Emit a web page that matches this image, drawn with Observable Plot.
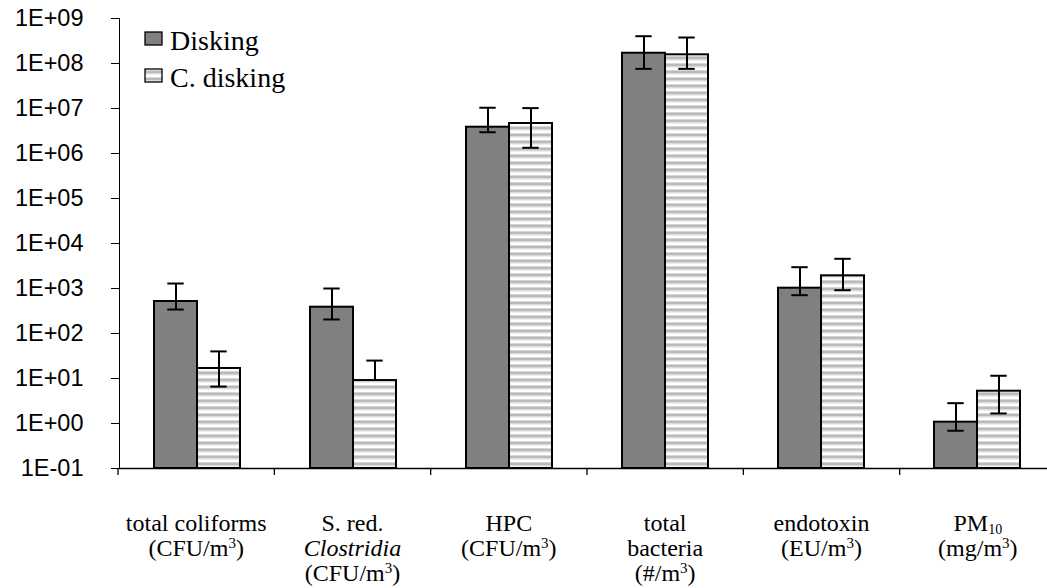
<!DOCTYPE html>
<html>
<head>
<meta charset="utf-8">
<script src="https://cdn.jsdelivr.net/npm/d3@7"></script>
<script src="https://cdn.jsdelivr.net/npm/@observablehq/plot@0.6"></script>
<style>
  html, body { margin: 0; padding: 0; background: white; overflow: hidden; }
  #chart { position: relative; width: 1047px; height: 588px; overflow: hidden; }
  #chart svg { overflow: hidden; }
</style>
</head>
<body>
<svg width="0" height="0" style="position:absolute">
  <defs>
    <pattern id="hstripes" patternUnits="userSpaceOnUse" width="8" height="7">
      <rect x="0" y="0" width="8" height="7" fill="#ffffff"></rect>
      <rect x="0" y="0" width="8" height="1" fill="#d6d6d6"></rect>
      <rect x="0" y="1" width="8" height="2.4" fill="#bababa"></rect>
      <rect x="0" y="3.4" width="8" height="1" fill="#d6d6d6"></rect>
    </pattern>
  </defs>
</svg>
<div id="chart"></div>
<script>
// ---- data ----
const categories = ["total coliforms", "S. red. Clostridia", "HPC", "total bacteria", "endotoxin", "PM10"];
const series = ["Disking", "C. disking"];
const diskingMean = [514, 384, 3.84e6, 1.69e8, 1016, 1.07];
const diskingLow = [341, 205, 2.97e6, 7.6e7, 710, 0.69];
const diskingHigh = [1291, 1000, 1.04e7, 4.04e8, 2974, 2.83];
const cDiskingMean = [16.7, 9.0, 4.64e6, 1.56e8, 1914, 5.22];
const cDiskingLow = [6.6, null, 1.34e6, 7.6e7, 916, 1.67];
const cDiskingHigh = [40, 25, 1.02e7, 3.78e8, 4571, 11.5];
const yTicks = [1e-1, 1e0, 1e1, 1e2, 1e3, 1e4, 1e5, 1e6, 1e7, 1e8, 1e9];
// ^x = superscript, ~x = subscript, _text_ = italic
const tickLabelLines = [
  ["total coliforms", "(CFU/m^3)"],
  ["S. red.", "_Clostridia_", "(CFU/m^3)"],
  ["HPC", "(CFU/m^3)"],
  ["total", "bacteria", "(#/m^3)"],
  ["endotoxin", "(EU/m^3)"],
  ["PM~10", "(mg/m^3)"]
];

const rows = categories.flatMap((c, i) => [
  {category: c, series: series[0], value: diskingMean[i], lo: diskingLow[i], hi: diskingHigh[i]},
  {category: c, series: series[1], value: cDiskingMean[i], lo: cDiskingLow[i], hi: cDiskingHigh[i]}
]);

const fmt = v => {
  const e = Math.round(Math.log10(v));
  return "1E" + (e < 0 ? "-" : "+") + String(Math.abs(e)).padStart(2, "0");
};

const W = 1047, H = 588;
const plot = Plot.plot({
  width: W,
  height: H,
  marginLeft: 118,
  marginRight: 0,
  marginTop: 18,
  marginBottom: 120,
  style: {fontFamily: "'Liberation Sans', Arial, sans-serif", fontSize: "23.5px", color: "black", background: "white"},
  facet: {data: rows, x: "category"},
  fx: {domain: categories, range: [118, 1056], padding: 0, axis: null, label: null},
  x: {domain: series, paddingInner: 0, paddingOuter: 0.78, axis: null, label: null},
  y: {type: "log", domain: [0.1, 1e9], range: [468, 18], ticks: yTicks, tickFormat: fmt,
      tickSize: 8, tickPadding: 28, line: true, label: null},
  marks: [
    Plot.barY(rows, {filter: d => d.series === series[0], x: "series", y1: 0.1, y2: "value", fill: "#808080", stroke: "black", strokeWidth: 2}),
    Plot.barY(rows, {filter: d => d.series === series[1], x: "series", y1: 0.1, y2: "value", fill: "url(#hstripes)", stroke: "black", strokeWidth: 2}),
    Plot.ruleY([0.1], {stroke: "black", strokeWidth: 1.3}),
    Plot.ruleX(rows, {x: "series", y1: d => d.lo ?? d.value, y2: "hi", stroke: "black", strokeWidth: 2}),
    Plot.tickY(rows, {x: "series", y: "hi", insetLeft: 13.3, insetRight: 13.3, stroke: "black", strokeWidth: 2}),
    Plot.tickY(rows, {filter: d => d.lo != null, x: "series", y: "lo", insetLeft: 13.3, insetRight: 13.3, stroke: "black", strokeWidth: 2})
  ]
});

document.getElementById("chart").appendChild(plot);

// ---- category boundary ticks & rich category labels, placed with the plot's fx scale ----
const svgRoot = d3.select(plot.tagName.toLowerCase() === "svg" ? plot : plot.querySelector("svg"));
const fxs = plot.scale("fx");
const band = d3.scaleBand(fxs.domain, fxs.range)
  .paddingInner(fxs.paddingInner ?? 0)
  .paddingOuter(fxs.paddingOuter ?? 0)
  .align(fxs.align ?? 0.5);
const ys = plot.scale("y");
const yBase = ys.range[0];

const g = svgRoot.append("g");
categories.forEach(c => {
  g.append("line")
    .attr("x1", band(c)).attr("x2", band(c))
    .attr("y1", yBase).attr("y2", yBase + 7)
    .attr("stroke", "black").attr("stroke-width", 1.3);
});

const labelG = svgRoot.append("g")
  .attr("font-family", "'Liberation Serif', 'Times New Roman', serif")
  .attr("font-size", 24)
  .attr("fill", "black")
  .attr("text-anchor", "middle");

categories.forEach((c, i) => {
  const cx = band(c) + band.bandwidth() / 2;
  tickLabelLines[i].forEach((line, j) => {
    const t = labelG.append("text").attr("x", cx).attr("y", yBase + 63 + j * 25);
    const parts = line.split(/(\^\w+|~\w+|_[^_]+_)/).filter(s => s.length);
    let shift = 0;
    parts.forEach(p => {
      const ts = t.append("tspan");
      if (p.startsWith("^")) {
        ts.text(p.slice(1)).attr("font-size", 15).attr("dy", -8 - shift); shift = -8;
      } else if (p.startsWith("~")) {
        ts.text(p.slice(1)).attr("font-size", 14).attr("dy", 3 - shift); shift = 3;
      } else if (p.startsWith("_")) {
        ts.text(p.slice(1, -1)).attr("font-style", "italic").attr("dy", -shift); shift = 0;
      } else {
        ts.text(p).attr("dy", -shift); shift = 0;
      }
    });
  });
});

// ---- legend ----
const leg = svgRoot.append("g")
  .attr("font-family", "'Liberation Serif', 'Times New Roman', serif")
  .attr("font-size", 28)
  .attr("fill", "black")
  .attr("text-anchor", "start");
const legendFills = ["#808080", "url(#hstripes)"];
series.forEach((s, i) => {
  const y0 = 32 + i * 37;
  leg.append("rect").attr("x", 145).attr("y", y0).attr("width", 17).attr("height", 13)
    .attr("fill", legendFills[i]).attr("stroke", "black").attr("stroke-width", 1.3);
  leg.append("text").attr("x", 170).attr("y", y0 + 18).text(s);
});
</script>
</body>
</html>
